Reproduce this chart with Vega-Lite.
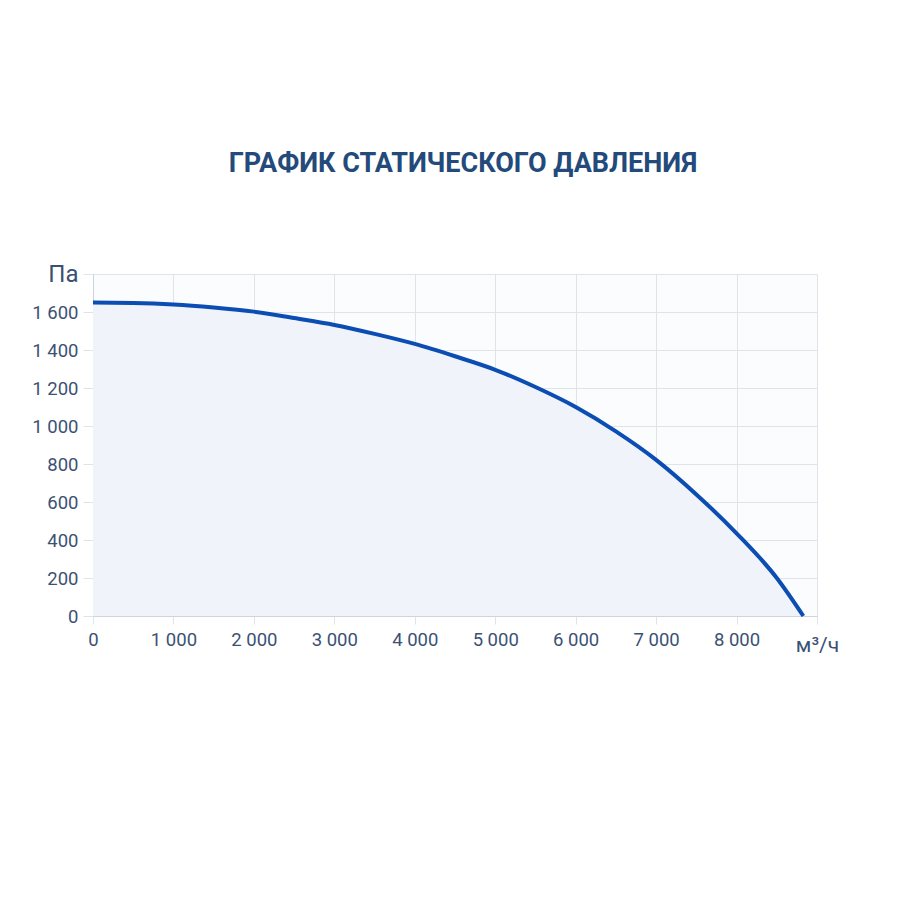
{
  "$schema": "https://vega.github.io/schema/vega-lite/v6.json",
  "description": "Static pressure curve",
  "autosize": "none",
  "width": 724,
  "height": 342,
  "padding": {"left": 93, "top": 274, "right": 83, "bottom": 284},
  "background": "#ffffff",
  "title": {
    "text": "ГРАФИК СТАТИЧЕСКОГО ДАВЛЕНИЯ",
    "font": "Roboto",
    "fontSize": 27,
    "fontWeight": "bold",
    "color": "#234a7a",
    "anchor": "middle",
    "offset": 84,
    "dx": 8
  },
  "config": {
    "view": {"stroke": null, "fill": "#fbfcfe"},
    "axis": {
      "labelFont": "Roboto",
      "labelFontSize": 18.5,
      "labelColor": "#3b5174",
      "gridColor": "#dfe3ea",
      "domainColor": "#cfd4dc",
      "tickColor": "#dfe3ea",
      "title": null
    }
  },
  "data": {
    "values": [
      {"q": 0, "p": 1650},
      {"q": 500, "p": 1648},
      {"q": 1000, "p": 1640},
      {"q": 1500, "p": 1624},
      {"q": 2000, "p": 1602},
      {"q": 2500, "p": 1568},
      {"q": 3000, "p": 1532},
      {"q": 3500, "p": 1485},
      {"q": 4000, "p": 1432},
      {"q": 4500, "p": 1367},
      {"q": 5000, "p": 1296},
      {"q": 5500, "p": 1205},
      {"q": 6000, "p": 1100},
      {"q": 6500, "p": 972},
      {"q": 7000, "p": 822},
      {"q": 7500, "p": 640},
      {"q": 8000, "p": 435},
      {"q": 8500, "p": 200},
      {"q": 8830, "p": 0}
    ]
  },
  "encoding": {
    "x": {
      "field": "q",
      "type": "quantitative",
      "scale": {"domain": [0, 9000], "nice": false},
      "axis": {
        "values": [0, 1000, 2000, 3000, 4000, 5000, 6000, 7000, 8000, 9000],
        "labelExpr": "datum.value == 9000 ? 'м³/ч' : replace(format(datum.value, ','), ',', ' ')",
        "labelFontSize": {"condition": {"test": "datum.value == 9000", "value": 21}, "value": 18.5},
        "labelPadding": {"condition": {"test": "datum.value == 9000", "value": 10}, "value": 6},
        "tickSize": 8,
        "labelFlush": false
      }
    },
    "y": {
      "field": "p",
      "type": "quantitative",
      "scale": {"domain": [0, 1800], "nice": false},
      "axis": {
        "values": [0, 200, 400, 600, 800, 1000, 1200, 1400, 1600, 1800],
        "labelExpr": "datum.value == 1800 ? 'Па' : replace(format(datum.value, ','), ',', ' ')",
        "labelFontSize": {"condition": {"test": "datum.value == 1800", "value": 24}, "value": 18.5},
        "tickSize": 10,
        "labelPadding": 5,
        "labelFlush": false
      }
    }
  },
  "layer": [
    {
      "mark": {"type": "area", "interpolate": "monotone", "color": "#f0f4fa"}
    },
    {
      "mark": {"type": "line", "interpolate": "monotone", "color": "#0b4db3", "strokeWidth": 4}
    }
  ]
}
